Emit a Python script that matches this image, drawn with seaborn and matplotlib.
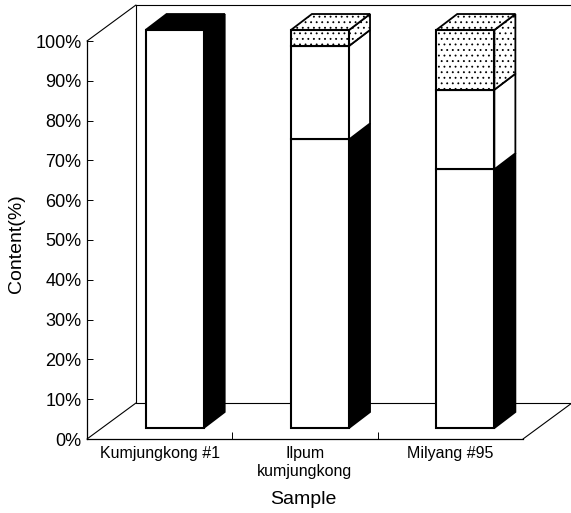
import matplotlib
matplotlib.use("Agg")
import matplotlib.pyplot as plt
from matplotlib.patches import Polygon
from matplotlib.transforms import Affine2D
import numpy as np
import seaborn as sns

samples = ["Kumjungkong #1", "Ilpum\nkumjungkong", "Milyang #95"]
series_lower = [100.0, 72.5, 65.0]
series_middle = [0.0, 23.5, 20.0]
series_upper = [0.0, 4.0, 15.0]
y_ticks = list(range(0, 101, 10))

# Oblique projection offsets, in data units (category units, percent)
FLOOR_DEPTH = (0.337, 9.05)
BAR_INSET = (0.103, 2.76)
BAR_DEPTH = (0.1445, 4.02)
BAR_WIDTH = 0.4
DOTS = "..."

sns.set_theme(style="white")
plt.rcParams["font.family"] = ["Liberation Sans", "DejaVu Sans"]
plt.rcParams["hatch.linewidth"] = 0.6

fig = plt.figure(figsize=(5.71, 5.13), dpi=100)
ax = fig.add_axes([87 / 571, 1 - 439 / 513, 436 / 571, 398 / 513])

# Stacked front faces, moved back onto the bar plane afterwards
styles = [
    (series_lower, "black", None),
    (series_middle, "white", None),
    (series_upper, "white", DOTS),
]
inset = Affine2D().translate(*BAR_INSET) + ax.transData
bottom = np.zeros(len(samples))
for values, side_color, hatch in styles:
    before = len(ax.patches)
    sns.barplot(x=samples, y=values, bottom=bottom, color="white", saturation=1,
                width=BAR_WIDTH, edgecolor="black", linewidth=1.5, hatch=hatch,
                ax=ax, zorder=4)
    for patch in ax.patches[before:]:
        patch.set_transform(inset)
        patch.set_clip_on(False)
        x0, y0 = patch.get_x(), patch.get_y()
        w, h = patch.get_width(), patch.get_height()
        if h <= 0:
            patch.set_visible(False)
            continue
        dx, dy = BAR_DEPTH
        side = Polygon([(x0 + w, y0), (x0 + w + dx, y0 + dy),
                        (x0 + w + dx, y0 + h + dy), (x0 + w, y0 + h)],
                       facecolor=side_color, edgecolor="black", linewidth=1.3,
                       hatch=hatch, transform=inset, clip_on=False, zorder=3)
        ax.add_patch(side)
        # The top face belongs to whichever segment ends at the full stack height
        if y0 + h >= 99.9:
            top = Polygon([(x0, y0 + h), (x0 + dx, y0 + h + dy),
                           (x0 + w + dx, y0 + h + dy), (x0 + w, y0 + h)],
                          facecolor=side_color, edgecolor="black", linewidth=1.3,
                          hatch=hatch, transform=inset, clip_on=False, zorder=3)
            ax.add_patch(top)
    bottom = bottom + np.array(values)

ax.set_xlim(-0.5, 2.5)
ax.set_ylim(0, 100)

# Back wall and floor of the box
ddx, ddy = FLOOR_DEPTH
x_left, x_right = -0.5, 2.5
wall = dict(color="black", linewidth=0.8, clip_on=False, zorder=1)
ax.plot([x_left, x_left + ddx], [0, ddy], **wall)
ax.plot([x_left, x_left + ddx], [100, 100 + ddy], **wall)
ax.plot([x_left + ddx, x_left + ddx], [ddy, 100 + ddy], **wall)
ax.plot([x_left + ddx, x_right + ddx], [100 + ddy, 100 + ddy], **wall)
ax.plot([x_left + ddx, x_right + ddx], [ddy, ddy], **wall)
ax.plot([x_right, x_right + ddx], [0, ddy], **wall)

sns.despine(ax=ax, top=True, right=True)
for name in ("left", "bottom"):
    ax.spines[name].set_linewidth(0.9)
    ax.spines[name].set_color("black")

ax.set_yticks(y_ticks)
ax.set_yticklabels([f"{v}%" for v in y_ticks], fontsize=13)
ax.tick_params(axis="y", direction="in", length=4, width=0.7, color="black",
               labelcolor="black", left=True, pad=4)

ax.set_xticks([0.5, 1.5])
ax.set_xticklabels([])
ax.set_xticks([0, 1, 2], labels=samples, minor=True, fontsize=11.5, linespacing=1.25)
ax.tick_params(axis="x", which="major", direction="in", length=5, width=0.7,
               color="black", bottom=True)
ax.tick_params(axis="x", which="minor", length=0, pad=5, labelcolor="black")

ax.set_xlabel("Sample", fontsize=14, color="black", labelpad=10)
ax.xaxis.set_label_coords(216 / 436, -(500 - 439) / 398, transform=ax.transAxes)
ax.xaxis.label.set_verticalalignment("center")
ax.set_ylabel("Content(%)", fontsize=14, color="black")
ax.yaxis.set_label_coords(-(87 - 17) / 436, (439 - 244) / 398, transform=ax.transAxes)
ax.yaxis.label.set_verticalalignment("center")

fig.savefig("out.png", dpi=100, facecolor="white")
